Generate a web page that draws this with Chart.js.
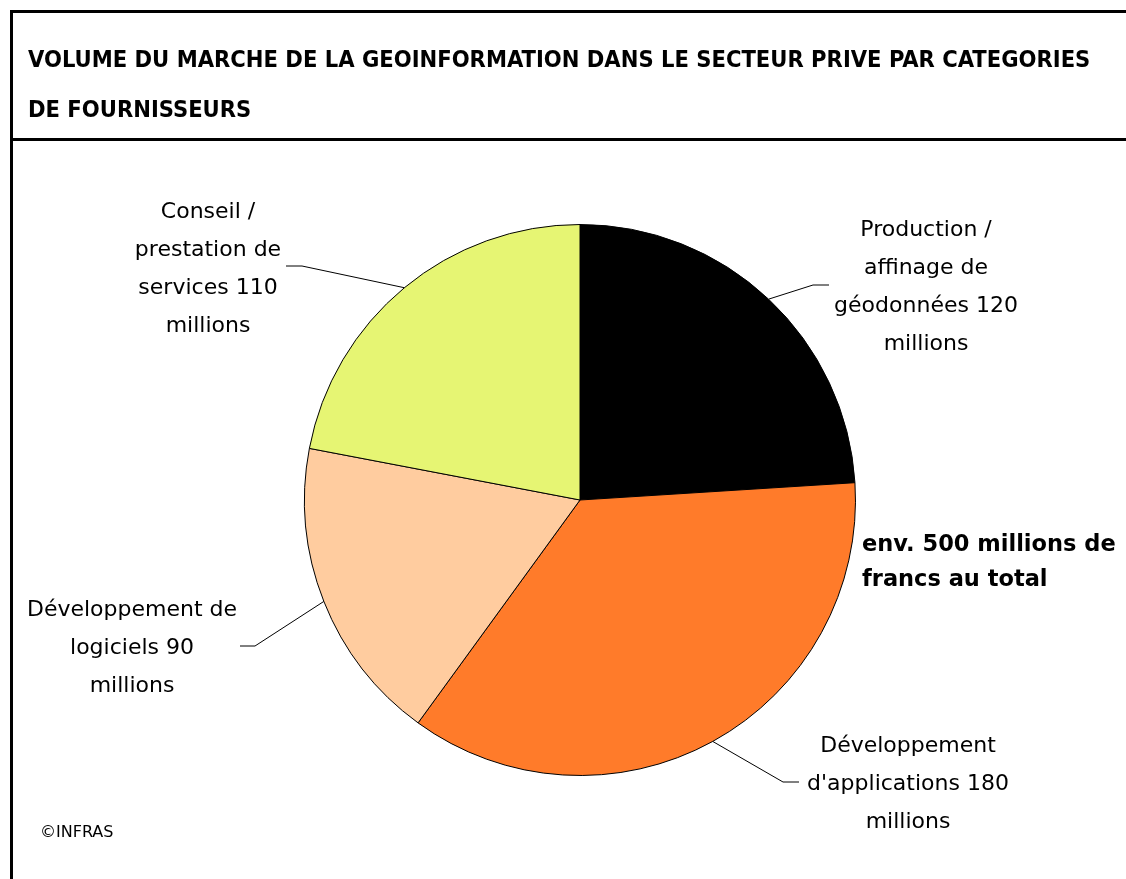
<!DOCTYPE html>
<html>
<head>
<meta charset="utf-8">
<script src="https://cdn.jsdelivr.net/npm/chart.js@4.4.0/dist/chart.umd.min.js"></script>
<style>
  html, body { margin: 0; padding: 0; background: #fff; }
  #wrap { position: relative; width: 1126px; height: 879px; overflow: hidden; }
</style>
</head>
<body>
<div id="wrap"><canvas id="pieChart" width="1126" height="879"></canvas></div>
<script>
// data
const categories = [
  ['Production /', 'affinage de', 'géodonnées'],
  ["Développement", "d'applications"],
  ['Développement de', 'logiciels'],
  ['Conseil /', 'prestation de', 'services']
];
const values = [120, 180, 90, 110];
const unit = 'millions';
const colors = ['#000000', '#FF7B2A', '#FFCC9F', '#E6F573'];
const titleLines = [
  'VOLUME DU MARCHE DE LA GEOINFORMATION DANS LE SECTEUR PRIVE PAR CATEGORIES',
  'DE FOURNISSEURS'
];
const totalLines = ['env. 500 millions de', 'francs au total'];
const credit = '©INFRAS';

// label placement (elbow of the leader, end of the leader, text centre, first line y)
const labelPos = [
  { ex: 813, ey: 285, lx: 829, tx: 926, ty: 230 },
  { ex: 783, ey: 782, lx: 799, tx: 908, ty: 746 },
  { ex: 255, ey: 646, lx: 240, tx: 132, ty: 610 },
  { ex: 302, ey: 266, lx: 286, tx: 208, ty: 212 }
];

const COND = '"DejaVu Sans Condensed", "DejaVu Sans", sans-serif';
const FONT = '"DejaVu Sans", sans-serif';

const decorations = {
  id: 'decorations',
  beforeDraw(chart) {
    const c = chart.ctx;
    c.save();
    c.fillStyle = '#fff';
    c.fillRect(0, 0, chart.width, chart.height);
    // frame
    c.fillStyle = '#000';
    c.fillRect(10, 10, chart.width, 3);
    c.fillRect(10, 10, 3, chart.height);
    c.fillRect(10, 138, chart.width, 3);
    // title
    c.font = 'bold 23.5px ' + COND;
    c.textAlign = 'left';
    c.textBaseline = 'alphabetic';
    c.fillText(titleLines[0], 28, 67);
    c.fillText(titleLines[1], 28, 117);
    c.restore();
  },
  afterDraw(chart) {
    const c = chart.ctx;
    const arcs = chart.getDatasetMeta(0).data;
    c.save();
    c.strokeStyle = '#000';
    c.lineWidth = 1;
    c.fillStyle = '#000';
    c.font = '22px ' + FONT;
    c.textAlign = 'center';
    c.textBaseline = 'middle';
    arcs.forEach((arc, i) => {
      const p = arc.getProps(['x', 'y', 'startAngle', 'endAngle', 'outerRadius'], true);
      const mid = (p.startAngle + p.endAngle) / 2;
      const sx = p.x + Math.cos(mid) * p.outerRadius;
      const sy = p.y + Math.sin(mid) * p.outerRadius;
      const lp = labelPos[i];
      c.beginPath();
      c.moveTo(sx, sy);
      c.lineTo(lp.ex, lp.ey);
      c.lineTo(lp.lx, lp.ey);
      c.stroke();
      const lines = categories[i].slice();
      lines[lines.length - 1] += ' ' + values[i];
      lines.push(unit);
      lines.forEach((t, k) => c.fillText(t, lp.tx, lp.ty + k * 38));
    });
    // total
    c.font = 'bold 22.5px ' + FONT;
    c.textAlign = 'left';
    c.fillText(totalLines[0], 862, 545);
    c.fillText(totalLines[1], 862, 580);
    // credit
    c.font = '16px ' + FONT;
    c.fillText(credit, 40, 833);
    c.restore();
  }
};

const ctxPie = document.getElementById('pieChart').getContext('2d');
const pieChart = new Chart(ctxPie, {
  type: 'pie',
  data: {
    labels: categories.map(l => l.join(' ')),
    datasets: [{
      data: values,
      backgroundColor: colors,
      borderColor: '#000',
      borderWidth: 1
    }]
  },
  options: {
    responsive: false,
    animation: false,
    layout: { padding: { left: 304, right: 270, top: 224, bottom: 103 } },
    plugins: {
      legend: { display: false },
      tooltip: { enabled: false }
    }
  },
  plugins: [decorations]
});
</script>
</body>
</html>
